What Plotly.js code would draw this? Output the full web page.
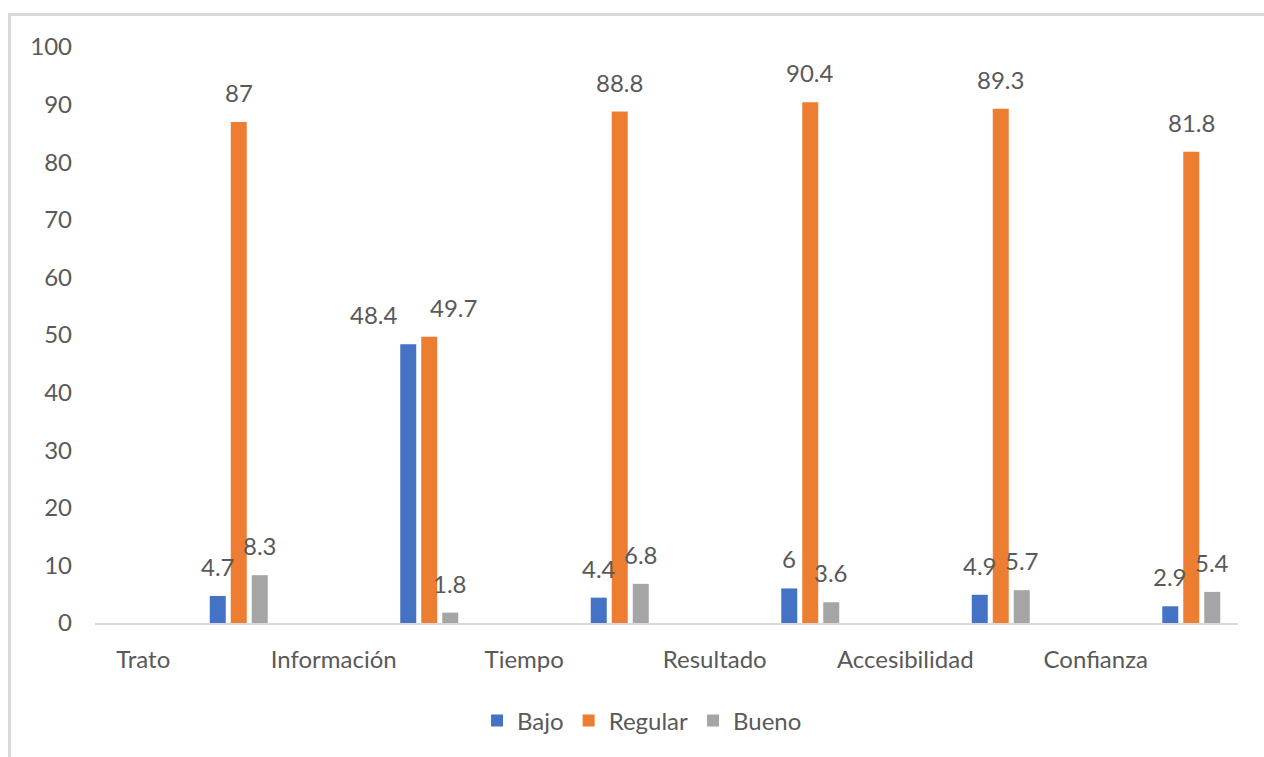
<!DOCTYPE html>
<html>
<head>
<meta charset="utf-8">
<script src="https://cdn.plot.ly/plotly-3.0.1.min.js"></script>
<style>
  html, body { margin: 0; padding: 0; background: #fff; }
  #wrap { position: relative; width: 1264px; height: 757px; overflow: hidden; }
  #chart { position: absolute; left: 0; top: 0; width: 1264px; height: 757px; }
  #frame { position: absolute; left: 8px; top: 13px; width: 1300px; height: 800px;
           border-top: 3px solid #d9d9d9; border-left: 3px solid #d9d9d9; pointer-events: none; }
</style>
</head>
<body>
<div id="wrap">
  <div id="chart"></div>
  <div id="frame"></div>
</div>
<script>
const categories = ["Trato", "Información", "Tiempo", "Resultado", "Accesibilidad", "Confianza"];
const bajo    = [4.7, 48.4, 4.4, 6.0, 4.9, 2.9];
const regular = [87, 49.7, 88.8, 90.4, 89.3, 81.8];
const bueno   = [8.3, 1.8, 6.8, 3.6, 5.7, 5.4];
const yTicks  = [0, 10, 20, 30, 40, 50, 60, 70, 80, 90, 100];

const seriesDefs = [
  { name: "Bajo",    values: bajo,    color: "#4472C4", offset: 0.1024 },
  { name: "Regular", values: regular, color: "#ED7D31", offset: 0.2126 },
  { name: "Bueno",   values: bueno,   color: "#A5A5A5", offset: 0.3228 }
];
const barWidth = 0.084;
const textColor = "#595959";
const fontFam = "Lato, 'Open Sans', sans-serif";

const traces = seriesDefs.map(s => ({
  type: "bar",
  name: s.name,
  x: categories,
  y: s.values,
  width: categories.map(() => barWidth),
  offset: s.offset,
  marker: { color: s.color, line: { width: 0 } },
  hoverinfo: "x+y+name"
}));

// label nudges for crowded Información group (pixels)
function nudge(seriesName, cat) {
  if (cat === "Información" && seriesName === "Bajo") return -34;
  if (cat === "Información" && seriesName === "Regular") return 24;
  return 0;
}

const annotations = [];
seriesDefs.forEach(s => {
  s.values.forEach((v, i) => {
    annotations.push({
      xref: "x", yref: "y",
      x: i + s.offset + barWidth / 2,
      y: v,
      text: String(v),
      showarrow: false,
      xanchor: "center", yanchor: "bottom",
      yshift: 13,
      xshift: nudge(s.name, categories[i]),
      font: { family: fontFam, size: 24, color: textColor }
    });
  });
});

const layout = {
  width: 1264, height: 757,
  margin: { l: 95, r: 26, t: 47, b: 134 },
  paper_bgcolor: "#ffffff",
  plot_bgcolor: "#ffffff",
  barmode: "overlay",
  font: { family: fontFam, size: 24, color: textColor },
  xaxis: {
    type: "category",
    range: [-0.5, 5.5],
    showline: true, linecolor: "#d9d9d9", linewidth: 2,
    showgrid: false, zeroline: false,
    ticks: "",
    ticklabelshift: -47,
    ticklabelstandoff: 14,
    tickfont: { family: fontFam, size: 24, color: textColor },
    fixedrange: true
  },
  yaxis: {
    range: [0, 100],
    tickvals: yTicks,
    ticktext: yTicks.map(String),
    showline: false, showgrid: false, zeroline: false,
    ticks: "",
    ticklabelstandoff: 22,
    tickfont: { family: fontFam, size: 24, color: textColor },
    fixedrange: true
  },
  showlegend: true,
  legend: {
    orientation: "h",
    x: 0.4786, xanchor: "center",
    y: 1 - 721 / 757, yanchor: "middle",
    yref: "container",
    font: { family: fontFam, size: 24, color: textColor },
    itemclick: false, itemdoubleclick: false
  },
  annotations: annotations
};

Plotly.newPlot("chart", traces, layout, { displayModeBar: false, staticPlot: true });
</script>
</body>
</html>
